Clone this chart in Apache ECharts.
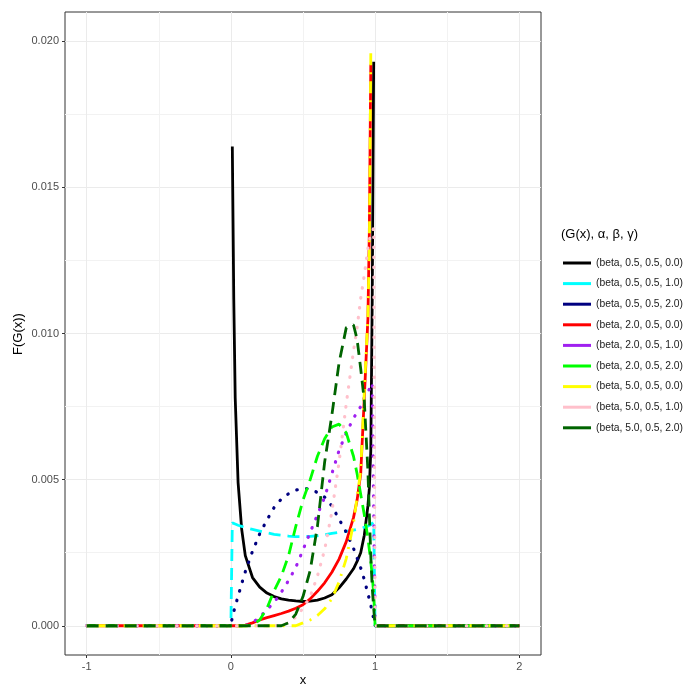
<!DOCTYPE html>
<html>
<head>
<meta charset="utf-8">
<script src="https://cdn.jsdelivr.net/npm/echarts@6/dist/echarts.min.js"></script>
<style>
    html, body { margin: 0; padding: 0; background: #ffffff; }
    #chart-beta-family { width: 683px; height: 684px; }
</style>
</head>
<body>
<div id="chart-beta-family"></div>
<script>
    // x grid shared by every curve
    var xs = [-1, 0, 0.01, 0.02, 0.03, 0.05, 0.075, 0.1, 0.15, 0.2, 0.25, 0.3, 0.35, 0.4, 0.45, 0.5,
        0.55, 0.6, 0.65, 0.7, 0.75, 0.8, 0.85, 0.875, 0.9, 0.925, 0.95, 0.96, 0.97, 0.98, 0.99, 1.0, 1.01, 2];

    var beta_05_05_00 = [0, null, 0.0164, 0.0112, 0.0078, 0.0049, 0.0033, 0.0024, 0.00165, 0.00132, 0.00112, 0.001,
        0.00092, 0.00088, 0.00085, 0.00083, 0.00084, 0.00088, 0.00095, 0.00106, 0.0013, 0.0016, 0.00195, 0.0022,
        0.0025, 0.0031, 0.0041, 0.0047, 0.006, 0.0112, 0.0193, null, 0, 0];
    var beta_05_05_10 = [0, 0, 0.00352, 0.0035, 0.00348, 0.00344, 0.0034, 0.00336, 0.0033, 0.00324, 0.00318, 0.00313,
        0.0031, 0.00307, 0.00305, 0.00305, 0.00306, 0.00308, 0.00311, 0.00316, 0.0032, 0.00323, 0.00327, 0.0033,
        0.00333, 0.00337, 0.00341, 0.00343, 0.00346, 0.0035, 0.00355, 0, 0, 0];
    var beta_05_05_20 = [0, 0, 0.0003, 0.00048, 0.00067, 0.00101, 0.00144, 0.00185, 0.00255, 0.00315, 0.00362, 0.00405,
        0.00434, 0.00452, 0.00464, 0.0047, 0.00468, 0.00456, 0.0044, 0.0041, 0.00365, 0.0032, 0.00265, 0.00232,
        0.00198, 0.00158, 0.0011, 0.0009, 0.0007, 0.00047, 0.00024, 0, 0, 0];
    var beta_20_05_00 = [0, 0, 0, 0, 0, 0, 0, 0.00002, 0.0001, 0.0002, 0.00028, 0.00035, 0.00042, 0.0005, 0.0006,
        0.00072, 0.00092, 0.00118, 0.00147, 0.00183, 0.00228, 0.00288, 0.0037, 0.0043, 0.0052, 0.0078, 0.0105,
        0.0135, 0.0192, null, null, null, 0, 0];
    var beta_20_05_10 = [0, 0, 0, 0, 0, 0, 0, 0, 0.0001, 0.0003, 0.00055, 0.0008, 0.00115, 0.00155, 0.002, 0.0026,
        0.0032, 0.0038, 0.0044, 0.0052, 0.006, 0.0066, 0.0071, 0.0073, 0.0075, 0.0078, 0.008, 0.0081, 0.0082,
        0.0083, 0.0083, 0, 0, 0];
    var beta_20_05_20 = [0, 0, 0, 0, 0, 0, 0, 0, 0.00002, 0.0002, 0.0006, 0.0012, 0.0017, 0.0024, 0.0034, 0.0043,
        0.005, 0.0058, 0.0064, 0.0068, 0.0069, 0.0066, 0.0058, 0.0052, 0.0045, 0.0038, 0.003, 0.0026, 0.0022,
        0.0017, 0.0011, 0, 0, 0];
    var beta_50_05_00 = [0, 0, 0, 0, 0, 0, 0, 0, 0, 0, 0, 0, 0, 0, 0, 0.0001, 0.0002, 0.00035, 0.00058, 0.00092,
        0.0015, 0.0023, 0.0035, 0.0044, 0.0053, 0.008, 0.0106, 0.013, 0.0196, null, null, null, 0, 0];
    var beta_50_05_10 = [0, 0, 0, 0, 0, 0, 0, 0, 0, 0, 0, 0, 0.00002, 0.0001, 0.0003, 0.0006, 0.001, 0.0017, 0.0026,
        0.0039, 0.0056, 0.0076, 0.0094, 0.0102, 0.0112, 0.012, 0.0129, 0.0132, 0.0134, 0.0135, 0.0136, 0, 0, 0];
    var beta_50_05_20 = [0, 0, 0, 0, 0, 0, 0, 0, 0, 0, 0, 0, 0, 0.0001, 0.0004, 0.001, 0.0019, 0.0034, 0.0056,
        0.0072, 0.009, 0.0102, 0.0103, 0.0098, 0.0088, 0.0077, 0.0053, 0.0038, 0.0024, 0.0013, 0.0006, 0, 0, 0];

    var seriesNames = ['(beta, 0.5, 0.5, 0.0)', '(beta, 0.5, 0.5, 1.0)', '(beta, 0.5, 0.5, 2.0)',
        '(beta, 2.0, 0.5, 0.0)', '(beta, 2.0, 0.5, 1.0)', '(beta, 2.0, 0.5, 2.0)',
        '(beta, 5.0, 0.5, 0.0)', '(beta, 5.0, 0.5, 1.0)', '(beta, 5.0, 0.5, 2.0)'];
    var seriesValues = [beta_05_05_00, beta_05_05_10, beta_05_05_20, beta_20_05_00, beta_20_05_10,
        beta_20_05_20, beta_50_05_00, beta_50_05_10, beta_50_05_20];

    var xTicks = [-1, 0, 1, 2];
    var xMinor = [-0.5, 0.5, 1.5];
    var yTicks = [0, 0.005, 0.01, 0.015, 0.02];
    var yMinor = [0.0025, 0.0075, 0.0125, 0.0175];

    var colors = ['#000000', '#00FFFF', '#000080', '#FF0000', '#A020F0', '#00FF00', '#FFFF00', '#FFC0CB', '#006400'];
    var dashed = [12, 7];
    var dotted = [0.5, 9.5];
    var dotdash = [2, 7, 12, 7];
    var styles = ['solid', dashed, dotted, 'solid', dotted, dashed, dotdash, dotted, dashed];

    var FONT = '"Liberation Sans", Arial, Helvetica, sans-serif';

    var myChart = echarts.init(document.getElementById('chart-beta-family'));

    var series = seriesNames.map(function (name, i) {
        var vals = seriesValues[i];
        var isDot = styles[i] === dotted;
        return {
            name: name,
            type: 'line',
            color: colors[i],
            showSymbol: false,
            connectNulls: false,
            data: xs.map(function (x, k) { return [x, vals[k]]; }),
            lineStyle: {
                color: colors[i],
                width: isDot ? 3.2 : 2.8,
                type: styles[i],
                cap: isDot ? 'round' : 'butt'
            },
            z: 2 + i
        };
    });

    var option = {
        animation: false,
        backgroundColor: '#ffffff',
        grid: {
            left: 65, top: 12, right: 142, bottom: 29,
            outerBoundsMode: 'none',
            containLabel: false,
            show: true, borderColor: '#333333', borderWidth: 1, backgroundColor: 'transparent'
        },
        legend: {
            orient: 'vertical',
            left: 563,
            top: 256,
            padding: 0,
            icon: 'rect',
            itemWidth: 28,
            itemHeight: 3,
            itemGap: 6.6,
            textStyle: { fontSize: 10.3, color: '#1a1a1a', fontFamily: FONT, lineHeight: 14 },
            data: seriesNames
        },
        graphic: [{
            type: 'text',
            left: 561,
            top: 228,
            style: { text: '(G(x), α, β, γ)', fontSize: 13, fill: '#000000', font: '13px ' + FONT }
        }, {
            // x axis title
            type: 'text',
            x: 303,
            y: 680,
            style: { text: 'x', font: '13px ' + FONT, fill: '#000000', align: 'center', verticalAlign: 'middle' }
        }, {
            // y axis title
            type: 'text',
            x: 18,
            y: 334,
            rotation: Math.PI / 2,
            style: { text: 'F(G(x))', font: '13px ' + FONT, fill: '#000000', align: 'center', verticalAlign: 'middle' }
        }],
        xAxis: [{
            type: 'value',
            min: -1.15,
            max: 2.15,
            axisLine: { show: false, onZero: false },
            axisTick: { show: true, length: 3, customValues: xTicks, lineStyle: { color: '#333333' } },
            axisLabel: {
                customValues: xTicks, margin: 6, fontSize: 11, color: '#4D4D4D', fontFamily: FONT,
                formatter: function (v) { return String(v); }
            },
            splitLine: { show: true, lineStyle: { color: '#EBEBEB', width: 1 } }
        }, {
            type: 'value',
            min: -1.15,
            max: 2.15,
            axisLine: { show: false, onZero: false },
            axisTick: { show: false, customValues: xMinor },
            axisLabel: { show: false, customValues: xMinor },
            splitLine: { show: true, lineStyle: { color: '#F2F2F2', width: 1 } }
        }],
        yAxis: [{
            type: 'value',
            min: -0.001,
            max: 0.021,
            axisLine: { show: false, onZero: false },
            axisTick: { show: true, length: 3, customValues: yTicks, lineStyle: { color: '#333333' } },
            axisLabel: {
                customValues: yTicks, margin: 6, fontSize: 11, color: '#4D4D4D', fontFamily: FONT,
                formatter: function (v) { return v.toFixed(3); }
            },
            splitLine: { show: true, lineStyle: { color: '#EBEBEB', width: 1 } }
        }, {
            type: 'value',
            min: -0.001,
            max: 0.021,
            position: 'left',
            axisLine: { show: false, onZero: false },
            axisTick: { show: false, customValues: yMinor },
            axisLabel: { show: false, customValues: yMinor },
            splitLine: { show: true, lineStyle: { color: '#F2F2F2', width: 1 } }
        }],
        series: series
    };
    myChart.setOption(option);
</script>
</body>
</html>
